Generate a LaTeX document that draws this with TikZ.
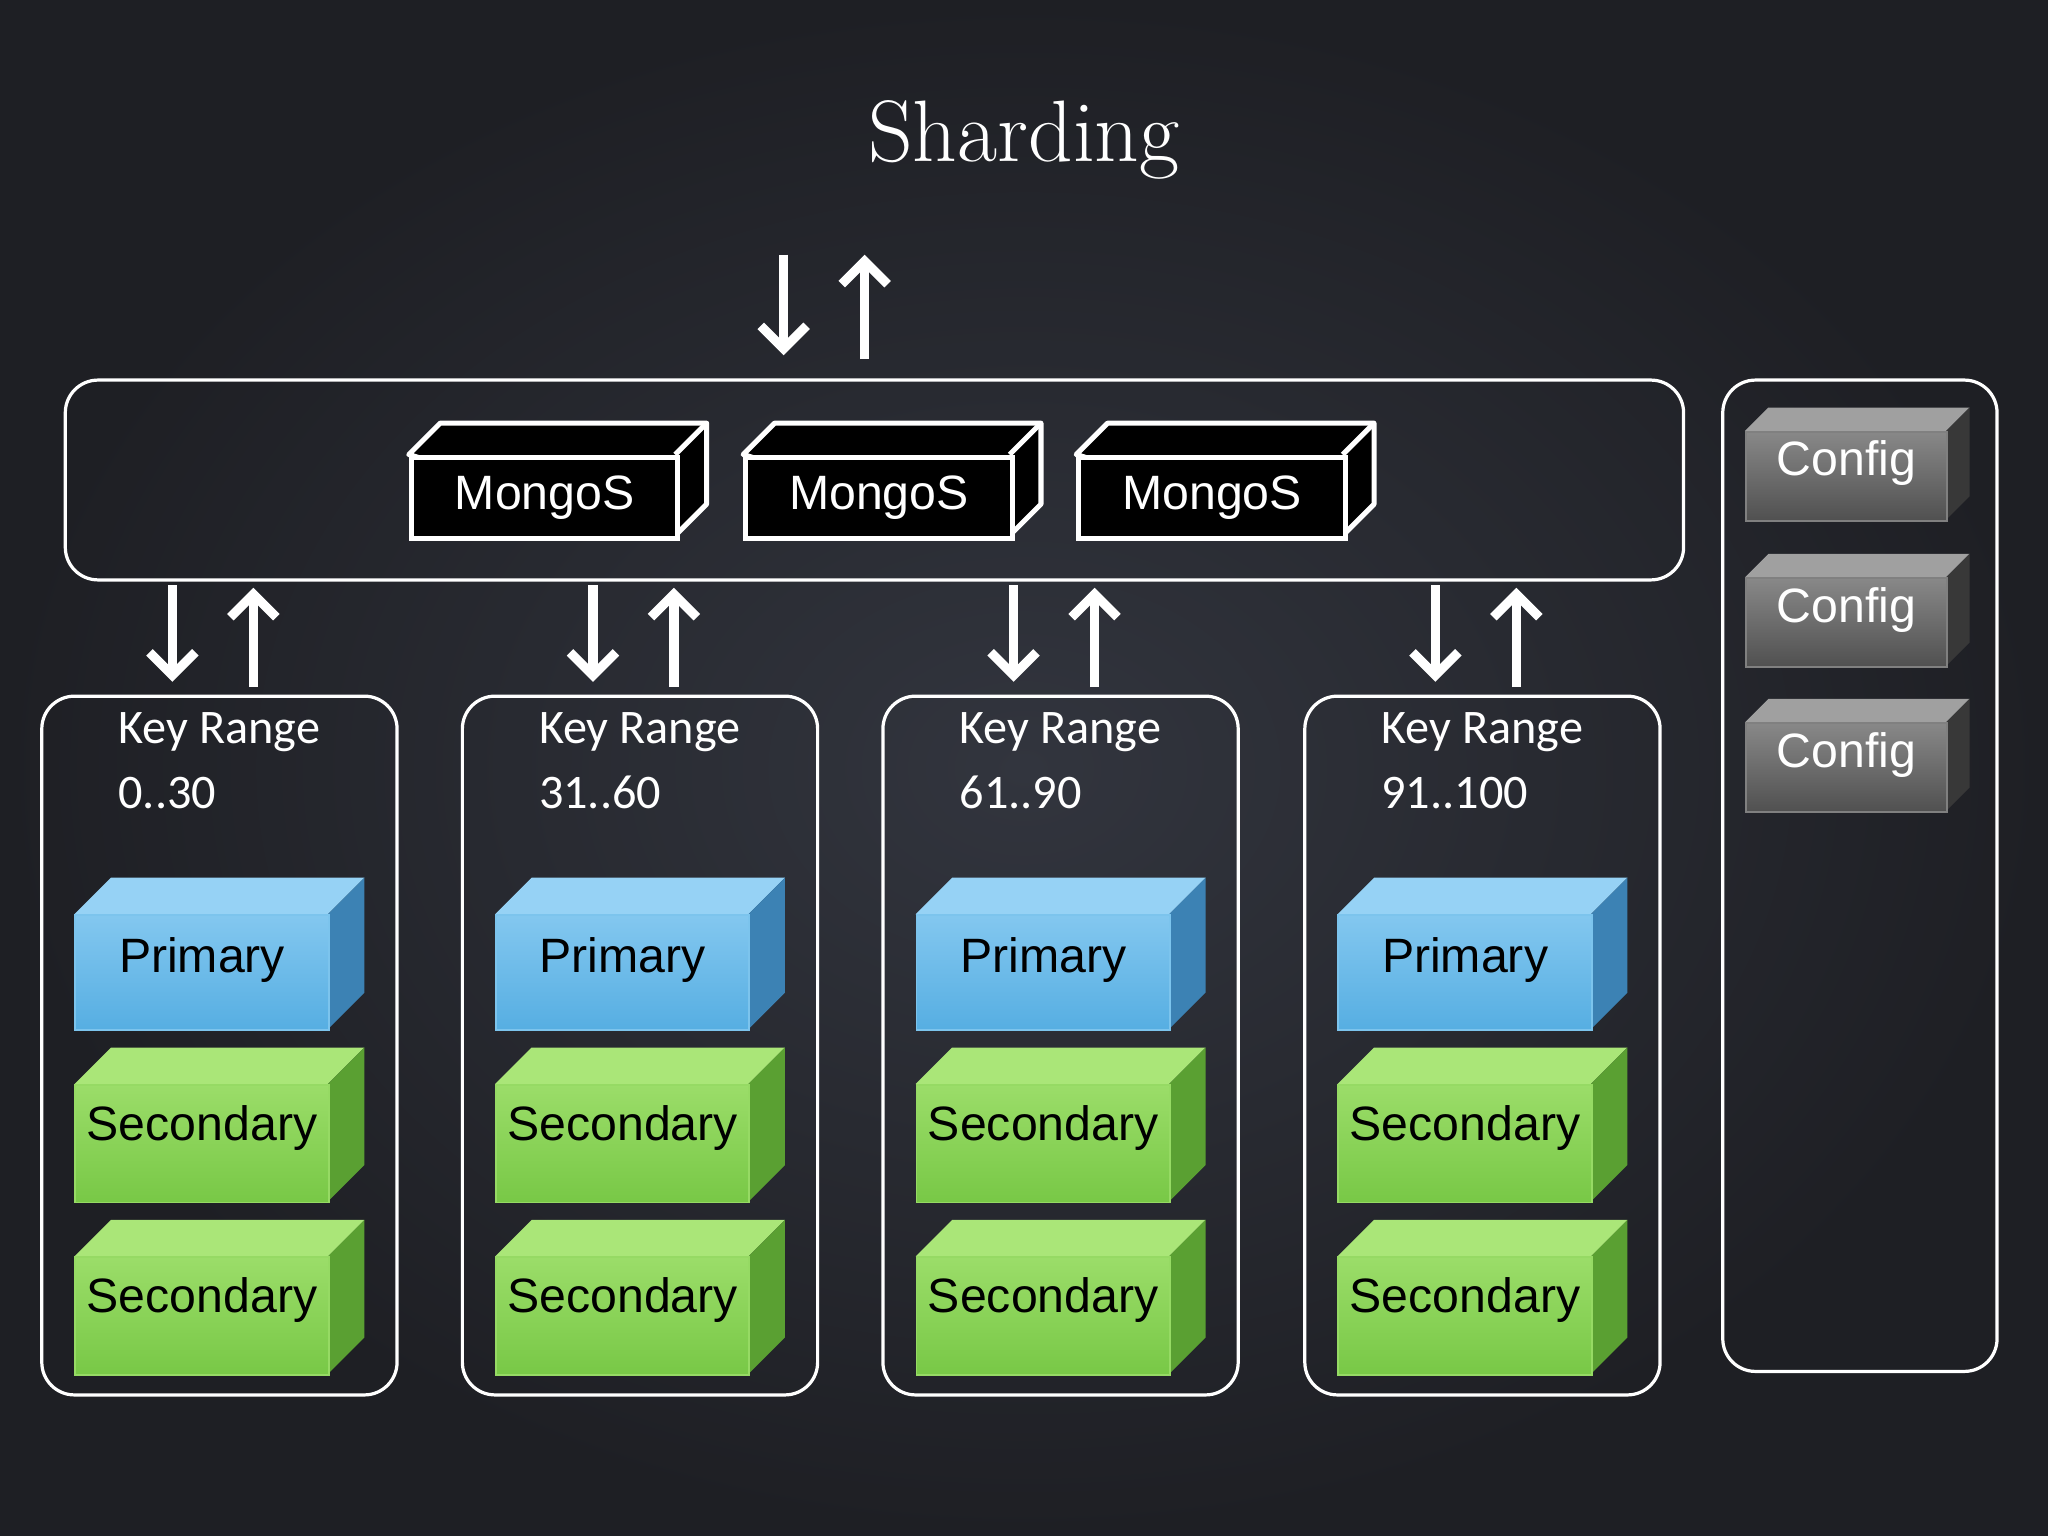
\documentclass[tikz,border=0pt]{standalone}
\usepackage{fontspec}
\setsansfont{Liberation Sans}
\newfontfamily\krfont{Carlito}
\usetikzlibrary{arrows.meta}
\definecolor{bgc}{RGB}{50,53,62}
\definecolor{bgd}{RGB}{30,31,36}
\definecolor{pri}{RGB}{86,174,226}
\definecolor{pril}{RGB}{150,210,245}
\definecolor{prid}{RGB}{60,130,180}
\definecolor{sec}{RGB}{120,200,70}
\definecolor{secl}{RGB}{170,230,120}
\definecolor{secd}{RGB}{90,160,50}
\definecolor{cfgl}{RGB}{160,160,160}
\definecolor{cfgd}{RGB}{80,80,80}
\tikzset{
 cont/.style={draw=white, line width=0.7pt, rounded corners=0.25cm},
 arr/.style={white, line width=2pt, -{Straight Barb[length=5pt,width=10pt,line width=2pt]}},
 lbl/.style={font=\sffamily\fontsize{10.5}{13}\selectfont},
 kr/.style={font=\krfont\fontsize{10.5}{13}\selectfont, white, align=left, anchor=north west, inner sep=0pt}
}
% box: #1 name, #2 x, #3 y, #4 w, #5 h, #6 d, #7 front, #8 top, #9 side
\newcommand\dbox[9]{%
 \fill[#8] (#2,#3) -- ++(#6,-#6) -- ++(#4,0) -- ++(-#6,#6) -- cycle;
 \fill[#9] (#2+#4,#3) -- ++(#6,-#6) -- ++(0,#5) -- ++(-#6,#6) -- cycle;
 \node[minimum width=#4*0.01cm, minimum height=#5*0.01cm, inner sep=0pt, anchor=north west, top color=#8!70!#7, bottom color=#7, draw=#8!60!#7, line width=0.4pt] (#1) at (#2,#3) {};
}
\begin{document}
\begin{tikzpicture}[x=0.01cm,y=-0.01cm]
\fill[inner color=bgc, outer color=bgd] (0,0) rectangle (1568,1176);
\useasboundingbox (0,0) rectangle (1568,1176);
\node[white, font=\fontsize{19}{22}\selectfont] (title) at (784,107) {Sharding};
% top arrows
\coordinate (ta1) at (600,195); \coordinate (ta2) at (600,272);
\coordinate (tb1) at (662,275); \coordinate (tb2) at (662,195);
\draw[arr] (ta1) -- (ta2); \draw[arr] (tb1) -- (tb2);
% mongos container
\draw[cont] (50,291) rectangle (1289,444);
\foreach \i/\x in {1/313,2/569,3/824}{
 \fill[black, draw=white, line width=1.1pt, line join=round] (\x,348) -- ++(24,-24) -- ++(204,0) -- ++(0,62) -- ++(-24,24) -- cycle;
 \draw[white, line width=1.1pt] (\x+204,348) -- ++(24,-24);
 \node[fill=black, draw=white, line width=1.1pt, minimum width=2.04cm, minimum height=0.62cm, anchor=north west, inner sep=0pt, text=white, lbl] (m\i) at (\x,348) {MongoS};
}
% config container
\draw[cont] (1319,291) rectangle (1529,1050);
\foreach \i/\y in {1/330,2/442,3/553}{
 \dbox{c\i}{1336}{\y}{154}{68}{18}{cfgd}{cfgl}{cfgd!70!black}
 \node[white, lbl] at ([yshift=0.1cm]c\i) {Config};
}
% shards
\foreach \s/\dx/\kr in {1/0/{0..30},2/322/{31..60},3/644/{61..90},4/967/{91..100}}{
 \draw[cont] (32+\dx,533) rectangle (304+\dx,1068);
 \coordinate (d\s a) at (132+\dx,448); \coordinate (d\s b) at (132+\dx,522);
 \coordinate (u\s a) at (194+\dx,526); \coordinate (u\s b) at (194+\dx,450);
 \draw[arr] (d\s a) -- (d\s b); \draw[arr] (u\s a) -- (u\s b);
 \node[kr] (k\s) at (90+\dx,545) {Key Range\\[1pt]\kr};
 \dbox{p\s}{57+\dx}{700}{194}{88}{28}{pri}{pril}{prid}
 \node[black, lbl] at ([yshift=0.1cm]p\s) {Primary};
 \dbox{s\s a}{57+\dx}{830}{194}{90}{28}{sec}{secl}{secd}
 \node[black, lbl] at ([yshift=0.12cm]s\s a) {Secondary};
 \dbox{s\s b}{57+\dx}{962}{194}{90}{28}{sec}{secl}{secd}
 \node[black, lbl] at ([yshift=0.12cm]s\s b) {Secondary};
}
\end{tikzpicture}
\end{document}
